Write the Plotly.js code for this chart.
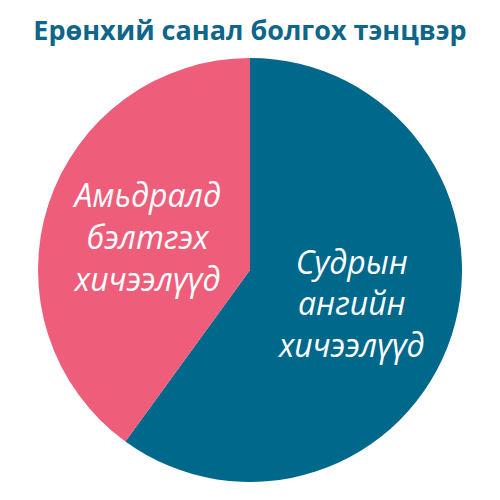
<!DOCTYPE html>
<html>
<head>
<meta charset="utf-8">
<script src="https://cdn.plot.ly/plotly-3.0.1.min.js"></script>
<style>
  html, body { margin: 0; padding: 0; background: #fff; }
  #chart { width: 500px; height: 500px; }
</style>
</head>
<body>
<div id="chart"></div>
<script>
// slice data
const labels = ["Судрын ангийн хичээлүүд", "Амьдралд бэлтгэх хичээлүүд"];
const sliceText = ["Судрын<br>ангийн<br>хичээлүүд", "Амьдралд<br>бэлтгэх<br>хичээлүүд"];
const shares = [60, 40];
const colors = ["#00688b", "#ee5d7a"];

const data = [{
  type: "pie",
  labels: labels,
  values: shares,
  text: sliceText,
  textinfo: "text",
  textposition: "inside",
  insidetextorientation: "horizontal",
  sort: false,
  direction: "clockwise",
  rotation: 0,
  marker: { colors: colors, line: { width: 0 } },
  textfont: { family: "Open Sans", size: 32, color: "#ffffff", style: "italic" },
  hoverinfo: "none"
}];

const layout = {
  width: 500,
  height: 500,
  margin: { l: 37, r: 37, t: 58, b: 18 },
  showlegend: false,
  paper_bgcolor: "#ffffff",
  uniformtext: { mode: "show", minsize: 32 },
  title: {
    text: "<b>Ерөнхий санал болгох тэнцвэр</b>",
    font: { family: "Open Sans", size: 27, color: "#0f6689" },
    x: 0.5,
    xanchor: "center",
    yref: "container",
    y: 0.938,
    yanchor: "middle"
  }
};

Plotly.newPlot("chart", data, layout, { displayModeBar: false, staticPlot: true });
</script>
</body>
</html>
